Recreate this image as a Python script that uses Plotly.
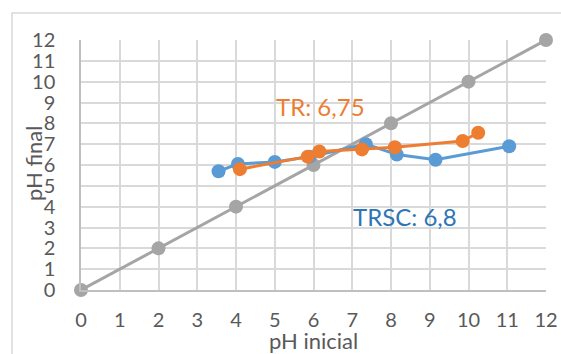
import plotly.graph_objects as go

# Data
ref_x = [0, 2, 4, 6, 8, 10, 12]
ref_y = [0, 2, 4, 6, 8, 10, 12]

trsc_x = [3.55, 4.05, 5.0, 5.9, 7.35, 8.15, 9.15, 11.05]
trsc_y = [5.7, 6.05, 6.15, 6.4, 7.0, 6.5, 6.25, 6.9]

tr_x = [4.1, 5.85, 6.15, 7.25, 8.1, 9.85, 10.25]
tr_y = [5.8, 6.4, 6.65, 6.75, 6.85, 7.15, 7.55]

ticks = list(range(0, 13))

GRAY = "#A5A5A5"
BLUE = "#5B9BD5"
ORANGE = "#ED7D31"
TXT = "#595959"
FONT = "Lato, Open Sans, sans-serif"

L, R, T, B = 81, 15, 40, 64
PW, PH = 561 - L - R, 354 - T - B

fig = go.Figure()
fig.add_trace(go.Scatter(x=ref_x, y=ref_y, mode="lines+markers",
                         line=dict(color=GRAY, width=3),
                         marker=dict(color=GRAY, size=14),
                         cliponaxis=False, showlegend=False))
fig.add_trace(go.Scatter(x=trsc_x, y=trsc_y, mode="lines+markers",
                         line=dict(color=BLUE, width=3),
                         marker=dict(color=BLUE, size=14),
                         cliponaxis=False, showlegend=False))
fig.add_trace(go.Scatter(x=tr_x, y=tr_y, mode="lines+markers",
                         line=dict(color=ORANGE, width=3),
                         marker=dict(color=ORANGE, size=14),
                         cliponaxis=False, showlegend=False))

fig.add_annotation(x=6.17, y=8.83, text="TR: 6,75", showarrow=False,
                   font=dict(family=FONT, size=24, color=ORANGE))
fig.add_annotation(x=8.37, y=3.52, text="TRSC: 6,8", showarrow=False,
                   font=dict(family=FONT, size=24, color="#2E75B6"))

# axis titles
fig.add_annotation(xref="paper", yref="paper", x=(33 - L) / PW, y=(354 - B - 164) / PH,
                   text="pH final", textangle=-90, showarrow=False,
                   xanchor="center", yanchor="middle",
                   font=dict(family=FONT, size=22, color=TXT))
fig.add_annotation(xref="paper", yref="paper", x=(313 - L) / PW, y=-(340 - (354 - B)) / PH,
                   text="pH inicial", showarrow=False,
                   xanchor="center", yanchor="middle",
                   font=dict(family=FONT, size=22, color=TXT))

# chart border
fig.add_shape(type="rect", xref="paper", yref="paper",
              x0=(12 - L) / PW, x1=(566 - L) / PW, y0=-(359 - (354 - B)) / PH, y1=1 + (T - 13) / PH,
              line=dict(color="#D9D9D9", width=1.5), fillcolor="rgba(0,0,0,0)", layer="below")

fig.update_layout(
    width=561, height=354,
    margin=dict(l=L, r=R, t=T, b=B),
    paper_bgcolor="white", plot_bgcolor="white",
    font=dict(family=FONT, color=TXT),
    xaxis=dict(range=[0, 12], tickvals=ticks, ticktext=[str(t) for t in ticks],
               showgrid=True, gridcolor="#D9D9D9", gridwidth=1.5,
               showline=True, linecolor="#BFBFBF", linewidth=1.5,
               zeroline=False, ticks="", tickfont=dict(size=20, color=TXT),
               ticklabelstandoff=11, automargin=False),
    yaxis=dict(range=[0, 12], tickvals=ticks, ticktext=[str(t) for t in ticks],
               showgrid=True, gridcolor="#D9D9D9", gridwidth=1.5,
               showline=True, linecolor="#BFBFBF", linewidth=1.5,
               zeroline=False, ticks="", tickfont=dict(size=20, color=TXT),
               ticklabelstandoff=20, automargin=False),
)

fig.write_html("out.html")
